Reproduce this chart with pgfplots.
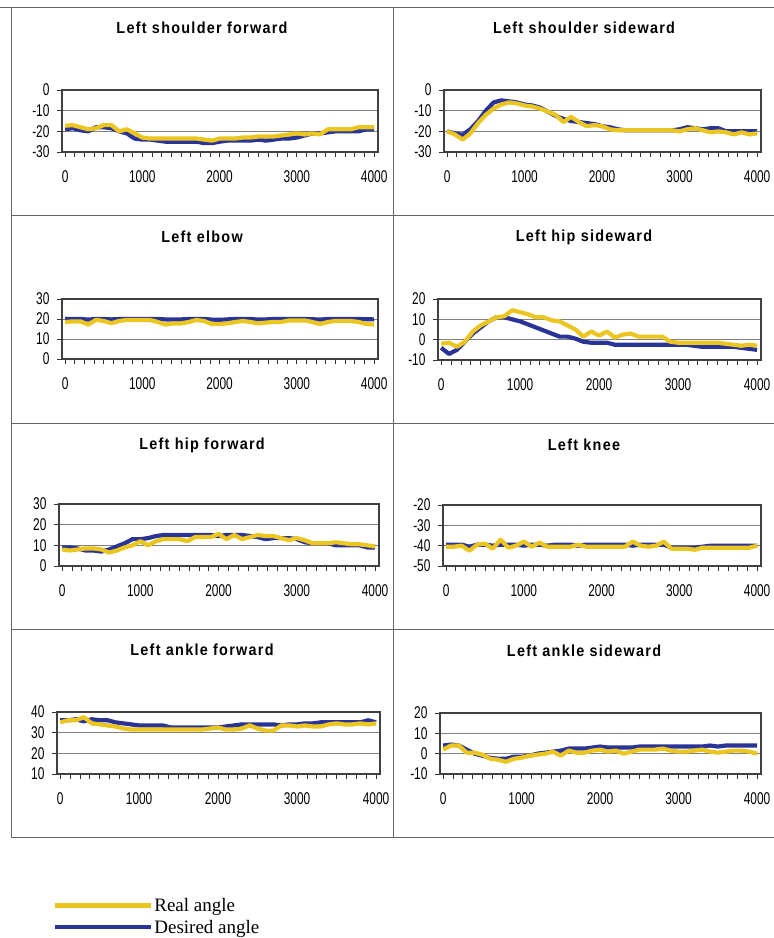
\documentclass[border=0pt]{standalone}
\usepackage{fontspec}
\usepackage{pgfplots}
\pgfplotsset{compat=1.18}
\setmainfont{Liberation Sans}
\newfontfamily\tickfont[FakeStretch=0.7]{Liberation Sans}
\newfontfamily\titlefont[FakeStretch=0.9,LetterSpace=8]{Liberation Sans}
\newfontfamily\legfont{Liberation Serif}
\definecolor{ylw}{RGB}{236,198,32}
\definecolor{blu}{RGB}{42,52,150}
\pgfplotsset{
  panel/.style={
    scale only axis, anchor=north west,
    xmin=-40, xmax=4050,
    xtick={0,1000,2000,3000,4000}, xticklabels={0,1000,2000,3000,4000},
    minor x tick num=7,
    tick pos=left, tick align=outside,
    major tick length=5pt, minor tick length=5pt,
    tick style={color=black!80, line width=0.8pt},
    axis line style={color=black!75, line width=1.1pt},
    ymajorgrids, grid style={color=black!50, line width=0.9pt},
    ticklabel style={font=\tickfont\fontsize{17}{17}\selectfont},
    xticklabel style={yshift=-10.5pt},
    yticklabel style={xshift=-4pt},
  },
  des/.style={color=blu, line width=4.2pt, line join=round},
  rea/.style={color=ylw, line width=4.2pt, line join=round},
}
\newcommand\ttl[1]{{\titlefont\bfseries\fontsize{16}{19}\selectfont #1}}
\begin{document}
\begin{tikzpicture}
\path[use as bounding box] (0pt,0pt) rectangle (774pt,-938pt);
% cell frame
\draw[black!60, line width=1pt] (0pt,-7pt) -- (774pt,-7pt);
\draw[black!60, line width=1pt] (11pt,-215pt) -- (774pt,-215pt);
\draw[black!60, line width=1pt] (11pt,-423pt) -- (774pt,-423pt);
\draw[black!60, line width=1pt] (11pt,-629pt) -- (774pt,-629pt);
\draw[black!60, line width=1pt] (11pt,-837pt) -- (774pt,-837pt);
\draw[black!60, line width=1pt] (11pt,-7pt) -- (11pt,-837pt);
\draw[black!60, line width=1pt] (393pt,-7pt) -- (393pt,-837pt);
% titles
\node at (202pt,-28pt) {\ttl{Left shoulder forward}};
\node at (584pt,-28pt) {\ttl{Left shoulder sideward}};
\node at (202pt,-237pt) {\ttl{Left elbow}};
\node at (584pt,-237pt) {\ttl{Left hip sideward}};
\node at (202pt,-445pt) {\ttl{Left hip forward}};
\node at (584pt,-445pt) {\ttl{Left knee}};
\node at (202pt,-650pt) {\ttl{Left ankle forward}};
\node at (584pt,-651pt) {\ttl{Left ankle sideward}};

% P1
\begin{axis}[panel, at={(62pt,-90pt)}, width=316pt, height=62pt,
  ymin=-30, ymax=0, ytick={-30,-20,-10,0}, yticklabels={-30,-20,-10,0}]
\addplot[des] coordinates {(0,-19)(100,-18.5)(200,-19.5)(300,-20)(400,-18)(500,-18)(600,-18.5)(700,-20)(800,-21)(900,-23.5)(1000,-24)(1100,-24)(1200,-24.5)(1300,-25)(1400,-25)(1500,-25)(1600,-25)(1700,-25)(1800,-25.7)(1900,-25.7)(2000,-25)(2100,-24.5)(2200,-24.5)(2300,-24.5)(2400,-24.5)(2500,-24)(2600,-24.5)(2700,-24)(2800,-23.5)(2900,-23.5)(3000,-23)(3100,-22)(3200,-21)(3300,-21)(3400,-20.5)(3500,-20)(3600,-20)(3700,-20)(3800,-20)(3900,-19)(4000,-19)};
\addplot[rea] coordinates {(0,-17.3)(100,-17)(200,-18)(300,-19)(400,-18.5)(500,-17)(600,-17)(700,-20)(800,-19)(900,-21)(1000,-23)(1100,-23.5)(1200,-23.5)(1300,-23.5)(1400,-23.5)(1500,-23.5)(1600,-23.5)(1700,-23.5)(1800,-24)(1900,-24.5)(2000,-23.5)(2100,-23.5)(2200,-23.5)(2300,-23)(2400,-23)(2500,-22.5)(2600,-22.5)(2700,-22.5)(2800,-22)(2900,-21.5)(3000,-21)(3100,-21.5)(3200,-21)(3300,-21.5)(3400,-19)(3500,-19)(3600,-19)(3700,-19)(3800,-18)(3900,-18)(4000,-18)};
\end{axis}

% P2
\begin{axis}[panel, at={(444pt,-90pt)}, width=317pt, height=62pt,
  ymin=-30, ymax=0, ytick={-30,-20,-10,0}, yticklabels={-30,-20,-10,0}]
\addplot[des] coordinates {(0,-20)(100,-21)(200,-21.7)(300,-19)(400,-15)(500,-10)(600,-6)(700,-5)(800,-5.5)(900,-6)(1000,-7)(1100,-7.5)(1200,-8.5)(1300,-10.5)(1400,-12.5)(1500,-14)(1600,-15)(1700,-15.5)(1800,-16)(1900,-16.5)(2000,-17.5)(2100,-18)(2200,-19)(2300,-19.5)(2400,-19.5)(2500,-19.5)(2600,-19.5)(2700,-19.5)(2800,-19.5)(2900,-19.5)(3000,-19)(3100,-18)(3200,-18.5)(3300,-19)(3400,-18.5)(3500,-18.5)(3600,-20)(3700,-20)(3800,-20)(3900,-20)(4000,-20)};
\addplot[rea] coordinates {(0,-20)(100,-21.5)(200,-24)(300,-21)(400,-16)(500,-12)(600,-9)(700,-7)(800,-6)(900,-6.5)(1000,-7.5)(1100,-8)(1200,-9)(1300,-10.5)(1400,-12)(1500,-15.5)(1600,-13)(1700,-15.5)(1800,-17.5)(1900,-17)(2000,-17.5)(2100,-19)(2200,-19.5)(2300,-19.5)(2400,-19.5)(2500,-19.5)(2600,-19.5)(2700,-19.5)(2800,-19.5)(2900,-19.5)(3000,-20)(3100,-19)(3200,-18.5)(3300,-19.5)(3400,-20.5)(3500,-20)(3600,-20.5)(3700,-21.5)(3800,-20.5)(3900,-21.5)(4000,-21)};
\end{axis}

% P3
\begin{axis}[panel, at={(62pt,-299pt)}, width=316pt, height=60pt,
  ymin=0, ymax=30, ytick={0,10,20,30}, yticklabels={0,10,20,30}]
\addplot[des] coordinates {(0,20)(100,20)(200,20)(300,19.7)(400,20)(500,20)(600,19.8)(700,20)(800,20)(900,20)(1000,20)(1100,20)(1200,20)(1300,19.8)(1400,19.7)(1500,19.8)(1600,20)(1700,20)(1800,20)(1900,19.7)(2000,19.6)(2100,19.8)(2200,20)(2300,20)(2400,20)(2500,19.7)(2600,19.8)(2700,20)(2800,20)(2900,20)(3000,20)(3100,20)(3200,19.9)(3300,19.7)(3400,20)(3500,20)(3600,20)(3700,20)(3800,20)(3900,19.9)(4000,19.8)};
\addplot[rea] coordinates {(0,18.5)(100,18.8)(200,18.8)(300,17.2)(400,19.6)(500,19)(600,17.9)(700,19)(800,19.5)(900,19.5)(1000,19.5)(1100,19.5)(1200,18.5)(1300,17.2)(1400,17.8)(1500,17.8)(1600,18.5)(1700,19.5)(1800,19)(1900,17.5)(2000,17.5)(2100,17.8)(2200,18.5)(2300,19)(2400,18.5)(2500,17.8)(2600,18.2)(2700,18.5)(2800,18.5)(2900,19.3)(3000,19.3)(3100,19.3)(3200,18.5)(3300,17.5)(3400,18.5)(3500,19)(3600,19)(3700,19)(3800,18.5)(3900,17.5)(4000,17.2)};
\end{axis}

% P4
\begin{axis}[panel, at={(438pt,-299pt)}, width=323pt, height=61pt,
  ymin=-10, ymax=20, ytick={-10,0,10,20}, yticklabels={-10,0,10,20}]
\addplot[des] coordinates {(0,-4)(100,-7)(200,-5)(300,-1)(400,3)(500,6)(600,9)(700,11)(800,11)(900,10)(1000,9)(1100,7.5)(1200,6)(1300,4.5)(1400,3)(1500,1.5)(1600,1.5)(1700,0.5)(1800,-1)(1900,-1.5)(2000,-1.5)(2100,-1.5)(2200,-2.5)(2300,-2.5)(2400,-2.5)(2500,-2.5)(2600,-2.5)(2700,-2.5)(2800,-2.5)(2900,-2.5)(3000,-2.5)(3100,-2.5)(3200,-3)(3300,-3.5)(3400,-3.5)(3500,-3.5)(3600,-3.5)(3700,-3.5)(3800,-4)(3900,-4.5)(4000,-5)};
\addplot[rea] coordinates {(0,-2)(100,-1.5)(200,-3.5)(300,-1)(400,4)(500,7)(600,9)(700,11)(800,11.5)(900,14.5)(1000,13.5)(1100,12.5)(1200,11)(1300,11)(1400,9.5)(1500,9)(1600,7)(1700,5)(1800,1.5)(1900,4)(2000,2)(2100,4)(2200,1)(2300,2.5)(2400,3)(2500,1.5)(2600,1.5)(2700,1.5)(2800,1.5)(2900,-1)(3000,-1.5)(3100,-1.5)(3200,-1.5)(3300,-1.5)(3400,-1.5)(3500,-1.5)(3600,-2)(3700,-2.5)(3800,-3)(3900,-2.5)(4000,-3)};
\end{axis}

% P5
\begin{axis}[panel, at={(59pt,-504pt)}, width=320pt, height=62pt,
  ymin=0, ymax=30, ytick={0,10,20,30}, yticklabels={0,10,20,30}]
\addplot[des] coordinates {(0,9)(100,9)(200,8.5)(300,7.5)(400,7.5)(500,7)(600,8)(700,9.5)(800,11)(900,13)(1000,13)(1100,13.5)(1200,14.5)(1300,15)(1400,15)(1500,15)(1600,15)(1700,15)(1800,15)(1900,15)(2000,14.5)(2100,15)(2200,15)(2300,15)(2400,14.5)(2500,14)(2600,13)(2700,13.5)(2800,13.5)(2900,13.5)(3000,13)(3100,11.5)(3200,11)(3300,11)(3400,11)(3500,10)(3600,10)(3700,10)(3800,10)(3900,9)(4000,9)};
\addplot[rea] coordinates {(0,8)(100,7.5)(200,8)(300,8.5)(400,8.5)(500,8)(600,6.5)(700,7.5)(800,9)(900,10)(1000,12)(1100,10)(1200,12)(1300,13)(1400,13)(1500,13)(1600,12)(1700,14)(1800,14)(1900,14)(2000,15.5)(2100,13)(2200,15)(2300,13)(2400,14)(2500,15)(2600,14.5)(2700,14.5)(2800,13.5)(2900,12.5)(3000,13.5)(3100,12.5)(3200,11)(3300,11)(3400,11)(3500,11.5)(3600,11)(3700,10.5)(3800,10.5)(3900,10)(4000,9.5)};
\end{axis}

% P6
\begin{axis}[panel, at={(443pt,-505pt)}, width=318pt, height=61pt,
  ymin=-50, ymax=-20, ytick={-50,-40,-30,-20}, yticklabels={-50,-40,-30,-20}]
\addplot[des] coordinates {(0,-39.5)(100,-39.5)(200,-39.5)(300,-40.5)(400,-39.5)(500,-39.5)(600,-40)(700,-39.5)(800,-39.5)(900,-39.5)(1000,-40)(1100,-39.5)(1200,-39.5)(1300,-40)(1400,-39.5)(1500,-39.5)(1600,-39.5)(1700,-40)(1800,-39.5)(1900,-39.5)(2000,-39.5)(2100,-39.5)(2200,-39.5)(2300,-39.5)(2400,-40)(2500,-39.5)(2600,-39.5)(2700,-39.5)(2800,-39.5)(2900,-41)(3000,-41)(3100,-41)(3200,-41)(3300,-40.5)(3400,-40)(3500,-40)(3600,-40)(3700,-40)(3800,-40)(3900,-40)(4000,-40)};
\addplot[rea] coordinates {(0,-40.5)(100,-40.5)(200,-40)(300,-42.5)(400,-39.5)(500,-39)(600,-41.5)(700,-37)(800,-41)(900,-40)(1000,-38)(1100,-40.5)(1200,-38.5)(1300,-40.5)(1400,-40.5)(1500,-40.5)(1600,-40.5)(1700,-39.5)(1800,-40.5)(1900,-40.5)(2000,-40.5)(2100,-40.5)(2200,-40.5)(2300,-40.5)(2400,-38)(2500,-40)(2600,-40.5)(2700,-40)(2800,-38)(2900,-41.5)(3000,-41.5)(3100,-41.5)(3200,-42)(3300,-41)(3400,-41)(3500,-41)(3600,-41)(3700,-41)(3800,-41)(3900,-41)(4000,-40)};
\end{axis}

% P7
\begin{axis}[panel, at={(57pt,-712pt)}, width=323pt, height=62pt,
  ymin=10, ymax=40, ytick={10,20,30,40}, yticklabels={10,20,30,40},
  legend style={at={(-0.015,-1.975)}, anchor=north west, draw=none, fill=none,
    font=\legfont\fontsize{19}{19}\selectfont, inner sep=0pt, row sep=4pt,
    cells={anchor=west}, nodes={inner sep=1.5pt},
    /tikz/every even column/.append style={column sep=0pt}}]
\addlegendimage{legend image code/.code={\draw[ylw, line width=4.5pt] (0pt,0pt) -- (96pt,0pt);}}
\addlegendentry{Real angle}
\addlegendimage{legend image code/.code={\draw[blu, line width=4.5pt] (0pt,0pt) -- (96pt,0pt);}}
\addlegendentry{Desired angle}
\addplot[des, forget plot] coordinates {(0,36)(100,36)(200,36.5)(300,35.5)(400,36.5)(500,36)(600,36)(700,35)(800,34.5)(900,34)(1000,33.5)(1100,33.5)(1200,33.5)(1300,33.5)(1400,32.5)(1500,32.5)(1600,32.5)(1700,32.5)(1800,32.5)(1900,32.5)(2000,32.5)(2100,33)(2200,33.5)(2300,34)(2400,34)(2500,34)(2600,34)(2700,34)(2800,33.5)(2900,34)(3000,34)(3100,34.5)(3200,34.5)(3300,35)(3400,35)(3500,35)(3600,35)(3700,35)(3800,35)(3900,36)(4000,35)};
\addplot[rea, forget plot] coordinates {(0,35)(100,36)(200,36)(300,37.5)(400,34.5)(500,34)(600,33.5)(700,33)(800,32)(900,31.5)(1000,31.5)(1100,31.5)(1200,31.5)(1300,31.5)(1400,31.5)(1500,31.5)(1600,31.5)(1700,31.5)(1800,31.5)(1900,32)(2000,32.5)(2100,31.5)(2200,31.5)(2300,32)(2400,33.5)(2500,32)(2600,31)(2700,31)(2800,33.5)(2900,33.5)(3000,33)(3100,33.5)(3200,33)(3300,33)(3400,34)(3500,34.5)(3600,34)(3700,34)(3800,34.5)(3900,34)(4000,34.5)};
\end{axis}

% P8
\begin{axis}[panel, at={(440pt,-713pt)}, width=321pt, height=61pt,
  ymin=-10, ymax=20, ytick={-10,0,10,20}, yticklabels={-10,0,10,20}]
\addplot[des] coordinates {(0,4)(100,4.5)(200,4)(300,2)(400,0)(500,-1)(600,-2)(700,-2.5)(800,-2.5)(900,-1.5)(1000,-1.5)(1100,-1)(1200,0)(1300,0.5)(1400,1)(1500,1.5)(1600,2.5)(1700,2.5)(1800,2.5)(1900,3)(2000,3.5)(2100,3)(2200,3)(2300,3)(2400,3)(2500,3.5)(2600,3.5)(2700,3.5)(2800,3.5)(2900,3.5)(3000,3.5)(3100,3.5)(3200,3.5)(3300,3.5)(3400,4)(3500,3.5)(3600,4)(3700,4)(3800,4)(3900,4)(4000,4)};
\addplot[rea] coordinates {(0,2)(100,4)(200,4)(300,0.5)(400,0.5)(500,-0.5)(600,-2.5)(700,-3)(800,-4)(900,-2.5)(1000,-2)(1100,-1)(1200,-0.5)(1300,0)(1400,1)(1500,-1)(1600,1.5)(1700,0.5)(1800,0.5)(1900,1.5)(2000,2)(2100,1)(2200,1.5)(2300,0)(2400,1)(2500,2)(2600,2)(2700,2)(2800,2.5)(2900,1.5)(3000,1)(3100,1)(3200,1.5)(3300,2)(3400,1)(3500,0.5)(3600,1)(3700,1.5)(3800,1.5)(3900,1)(4000,0)};
\end{axis}
\end{tikzpicture}
\end{document}
